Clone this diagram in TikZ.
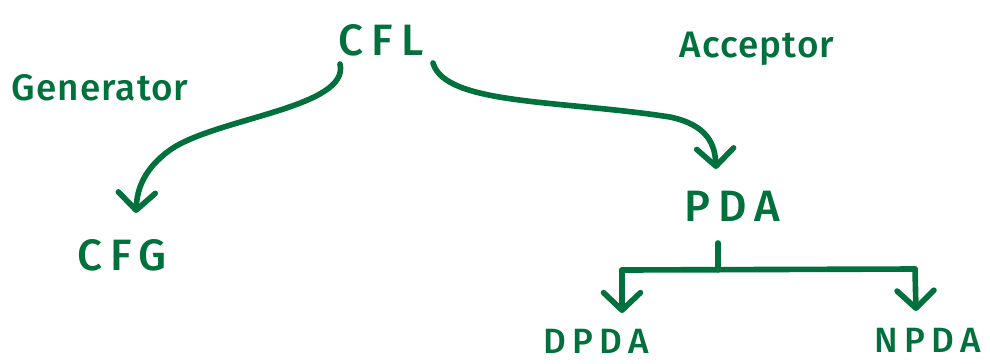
\documentclass[tikz,border=0pt]{standalone}
\usepackage{fontspec}
\setmainfont{Fira Sans}[UprightFont=* Medium]
\usetikzlibrary{arrows.meta}
\definecolor{ink}{RGB}{0,112,60}
\tikzset{
  pen/.style={draw=ink, line width=3.2, line cap=round, line join=round},
  tip/.style={-{Straight Barb[length=10, width=21, line width=3.2, round]}},
  big/.style={text=ink, inner sep=0pt, font=\fontsize{25}{28}\selectfont\addfontfeature{LetterSpace=18}},
  mid/.style={text=ink, inner sep=0pt, font=\fontsize{20}{24}\selectfont\addfontfeature{LetterSpace=18}},
  note/.style={text=ink, inner sep=0pt, font=\fontsize{21}{24}\selectfont\addfontfeature{LetterSpace=3}},
}
\begin{document}
\begin{tikzpicture}[x=0.02cm, y=-0.02cm]
  \useasboundingbox (0,0) rectangle (990,363);

  % labels
  \node[big]  (cfl) at (381,40)  {CFL};
  \node[note] (gen) at (100,88)  {Generator};
  \node[note] (acc) at (757,49)  {Acceptor};
  \node[big]  (cfg) at (122,255) {CFG};
  \node[big]  (pda) at (732,206) {PDA};
  \node[mid]  (dpda) at (596,341) {DPDA};
  \node[mid]  (npda) at (928,340) {NPDA};

  % attachment points
  \coordinate (cflL) at (340,64);
  \coordinate (cflR) at (433,63);
  \coordinate (cfgT) at (136,213);
  \coordinate (pdaT) at (716,169);
  \coordinate (pdaB) at (718,243);
  \coordinate (bar)  at (718,270);
  \coordinate (barL) at (622,270);
  \coordinate (barR) at (915,269);
  \coordinate (dpdaT) at (622,313);
  \coordinate (npdaT) at (916,311);

  % CFL -> CFG
  \draw[pen, tip] (cflL) .. controls (350,108) and (215,118) .. (170,150)
                         .. controls (145,168) and (137,188) .. (cfgT);
  % CFL -> PDA
  \draw[pen, tip] (cflR) .. controls (445,105) and (560,100) .. (670,117)
                         .. controls (708,125) and (715,145) .. (pdaT);

  % PDA split into DPDA and NPDA
  \draw[pen] (pdaB) -- (bar);
  \draw[pen] (barL) -- (barR);
  \draw[pen, tip] (barL) -- (dpdaT);
  \draw[pen, tip] (barR) -- (npdaT);
\end{tikzpicture}
\end{document}
